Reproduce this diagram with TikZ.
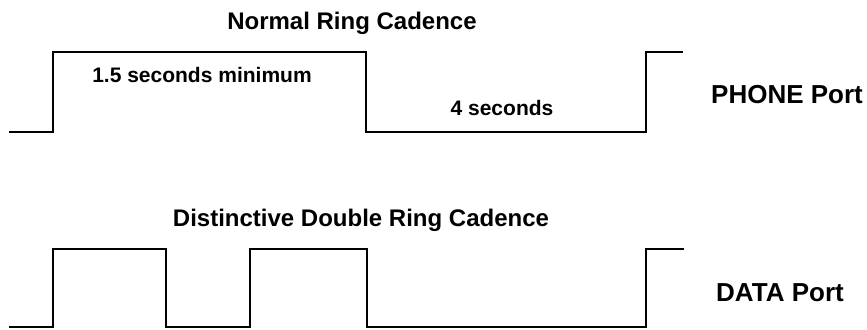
\documentclass[tikz,border=0pt]{standalone}
\usepackage{fontspec}
\setmainfont{Liberation Sans}
\usetikzlibrary{positioning}

\begin{document}
\begin{tikzpicture}[x=0.5pt, y=-0.5pt,
  wave/.style={line width=1.2pt, line join=miter},
  title/.style={font=\bfseries\fontsize{12}{14}\selectfont},
  timelabel/.style={font=\bfseries\fontsize{10.5}{12}\selectfont},
  portlabel/.style={font=\bfseries\fontsize{13}{15}\selectfont}]

\useasboundingbox (0,0) rectangle (867,329);

% titles
\node[title] (normal) at (352,23) {Normal Ring Cadence};
\node[title] (double) at (361,220) {Distinctive Double Ring Cadence};

% phone port waveform
\draw[wave] (9,132) -- (53,132) -- (53,52) -- (366,52) -- (366,132)
  -- (646,132) -- (646,52) -- (683,52);
\node[timelabel] (onlabel) at (202,75) {1.5 seconds minimum};
\node[timelabel] (offlabel) at (502,108) {4 seconds};
\node[portlabel] (phone) at (787,95) {PHONE Port};

% data port waveform
\draw[wave] (9,327) -- (53,327) -- (53,249) -- (166,249) -- (166,327)
  -- (250,327) -- (250,249) -- (367,249) -- (367,327)
  -- (646,327) -- (646,249) -- (684,249);
\node[portlabel] (data) at (780,293) {DATA Port};

\end{tikzpicture}
\end{document}
